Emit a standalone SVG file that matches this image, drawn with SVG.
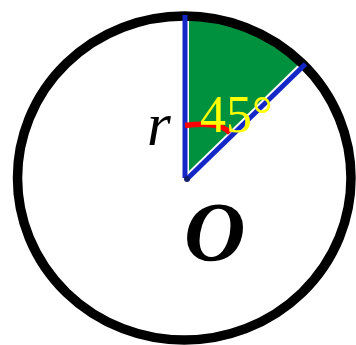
<svg xmlns="http://www.w3.org/2000/svg" width="356" height="345" viewBox="0 0 356 345">
<style>
.ln{stroke:#1428c8;stroke-width:5;stroke-linecap:butt;fill:none}
.tx{font-family:"Liberation Serif","Times New Roman",serif}
</style>
<rect width="356" height="345" fill="#ffffff"/>
<g id="sector">
<path d="M189,171 L189,16 A166.75,162 0 0 1 301,62 Z" fill="#00913f"/>
</g>
<g id="circle">
<ellipse cx="184.25" cy="178" rx="166.75" ry="162" fill="none" stroke="#000000" stroke-width="9.5"/>
</g>
<g id="radii">
<line class="ln" x1="185" y1="15" x2="185" y2="178"/>
<line class="ln" x1="187" y1="179" x2="305.5" y2="64"/>
<circle cx="187" cy="179" r="3" fill="#10206e"/>
</g>
<g id="angle">
<path d="M185,125.5 C205,123 222,124 230,133" fill="none" stroke="#ff0000" stroke-width="5.5"/>
<text class="tx" x="200" y="132" font-size="52" fill="#ffff00">45°</text>
</g>
<g id="labels">
<text class="tx" x="147" y="145" font-size="61" font-style="italic" fill="#000000">r</text>
<text class="tx" x="184" y="261" font-size="85" font-style="italic" font-weight="bold" fill="#000000">O</text>
</g>
</svg>
